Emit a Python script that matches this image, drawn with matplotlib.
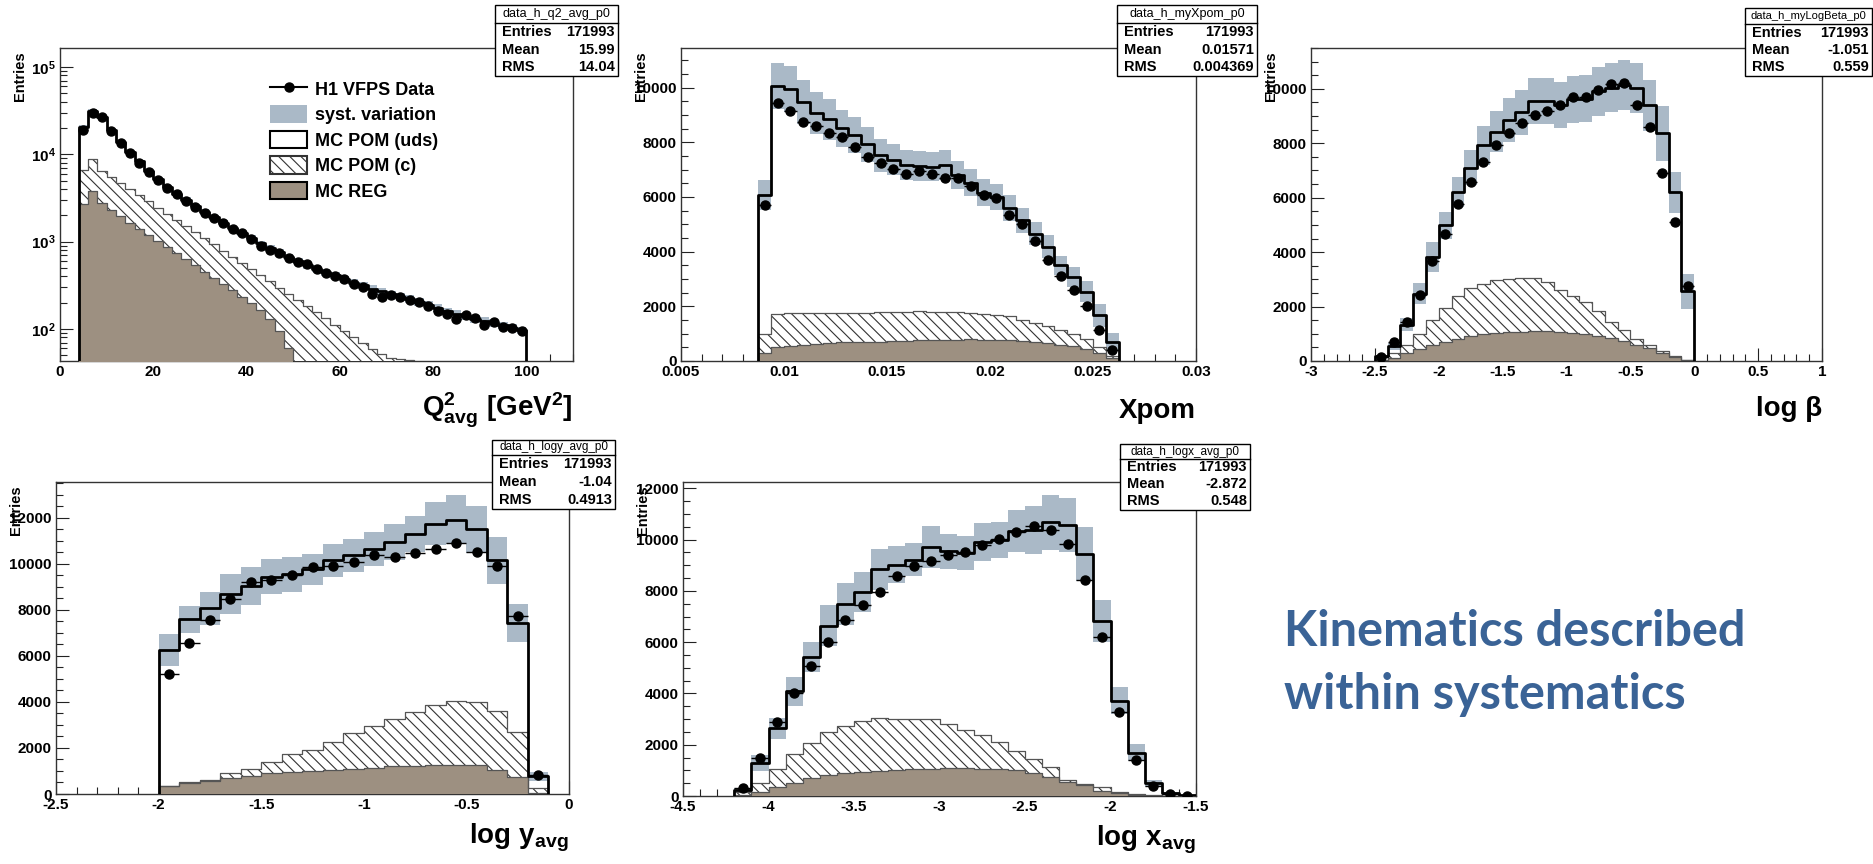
import numpy as np
import matplotlib
matplotlib.use('Agg')
import matplotlib.pyplot as plt
from matplotlib.ticker import MultipleLocator, LogLocator, FuncFormatter, NullFormatter
from matplotlib.patches import Rectangle
from matplotlib.lines import Line2D

plt.rcParams['font.family'] = ['Liberation Sans', 'DejaVu Sans']
plt.rcParams['font.weight'] = 'bold'
plt.rcParams['mathtext.fontset'] = 'custom'
plt.rcParams['mathtext.rm'] = 'Liberation Sans:bold'
plt.rcParams['mathtext.it'] = 'Liberation Sans:bold'
plt.rcParams['mathtext.bf'] = 'Liberation Sans:bold'
plt.rcParams['hatch.linewidth'] = 0.8

W, H = 1873, 864
SYS_COL = '#aab9c7'
REG_COL = '#9d9081'
TXT_BLUE = '#3a6396'
HATCH = '\\\\\\'

# ---- Q2 (log scale), bins of 2 GeV^2 from 4 to 100
q2_data = [19000, 30000, 26500, 18500, 13500, 10300, 8000, 6300, 5050, 4150,
           3550, 2950, 2500, 2150, 1880, 1630, 1380, 1240, 1080, 890,
           810, 740, 650, 590, 550, 490, 440, 400, 370, 330,
           300, 250, 230, 245, 235, 215, 205, 185, 160, 150,
           130, 145, 135, 110, 120, 105, 103, 95]
q2_mc = [20500, 31500, 27000, 19000, 13800, 10500, 8300, 6500, 5200, 4250,
         3550, 3000, 2550, 2200, 1900, 1650, 1420, 1250, 1100, 960,
         850, 760, 670, 600, 540, 490, 450, 410, 370, 340,
         315, 290, 270, 250, 235, 220, 205, 190, 175, 160,
         150, 140, 130, 125, 118, 110, 103, 97]
q2_sys = [0.05, 0.05, 0.05, 0.05, 0.05, 0.05, 0.05, 0.05, 0.05, 0.05,
          0.07, 0.07, 0.07, 0.07, 0.07, 0.07, 0.07, 0.07, 0.07, 0.07,
          0.08, 0.08, 0.08, 0.08, 0.09, 0.09, 0.09, 0.09, 0.1, 0.1,
          0.1, 0.1, 0.1, 0.1, 0.1, 0.1, 0.1, 0.1, 0.1, 0.1,
          0.1, 0.1, 0.1, 0.1, 0.1, 0.1, 0.1, 0.1]
q2_hatch = [6700, 8800, 6500, 5500, 4700, 4000, 3400, 2900, 2450, 2100,
            1780, 1510, 1290, 1090, 930, 790, 670, 570, 485, 412,
            350, 298, 253, 215, 183, 156, 132, 112, 95, 81,
            69, 59, 52, 47, 45, 44]
q2_reg = [2700, 3800, 2800, 2300, 1950, 1650, 1400, 1200, 1020, 870,
          740, 630, 535, 455, 385, 330, 280, 235, 200, 165,
          130, 95, 60]

# ---- Xpom, 28 bins from 0.00875 to 0.02625
xp_data = [5700, 9430, 9150, 8750, 8590, 8350, 8200, 7840, 7470, 7250,
           7040, 6840, 6960, 6840, 6680, 6700, 6400, 6070, 5970, 5340,
           5010, 4400, 3710, 3100, 2610, 2000, 1150, 390]
xp_mc = [6070, 10060, 9940, 9490, 9080, 8840, 8510, 8270, 7920, 7530,
         7370, 7170, 7130, 7110, 7170, 6800, 6520, 6150, 6000, 5600,
         5150, 4660, 4180, 3500, 3080, 2530, 1670, 700]
xp_sys = [0.09, 0.085, 0.085, 0.085, 0.085, 0.085, 0.08, 0.08, 0.08, 0.08,
          0.075, 0.075, 0.075, 0.075, 0.075, 0.075, 0.075, 0.08, 0.08, 0.085,
          0.09, 0.09, 0.1, 0.1, 0.12, 0.15, 0.25, 0.45]
xp_hatch = [1000, 1730, 1740, 1760, 1760, 1760, 1770, 1760, 1770, 1780,
            1790, 1800, 1820, 1790, 1790, 1780, 1760, 1720, 1690, 1650,
            1500, 1380, 1270, 1150, 1000, 820, 520, 200]
xp_reg = [300, 520, 560, 600, 620, 650, 680, 690, 700, 710,
          720, 740, 760, 760, 770, 780, 790, 780, 770, 760,
          740, 700, 650, 600, 540, 440, 300, 120]

# ---- log beta, 25 bins from -2.5 to 0
lb_data = [150, 690, 1420, 2440, 3660, 4680, 5770, 6570, 7300, 7930,
           8360, 8730, 9030, 9200, 9420, 9710, 9710, 9950, 10180, 10220,
           9410, 8580, 6910, 5100, 2770]
lb_mc = [170, 540, 1340, 2480, 3820, 4980, 6210, 7100, 7920, 8420,
         8850, 9140, 9550, 9550, 9390, 9610, 9630, 9910, 10040, 10150,
         10030, 9400, 8360, 6200, 2560]
lb_sys = [0.3, 0.25, 0.18, 0.16, 0.14, 0.1, 0.09, 0.09, 0.09, 0.09,
          0.09, 0.09, 0.09, 0.09, 0.09, 0.09, 0.09, 0.09, 0.09, 0.09,
          0.09, 0.1, 0.12, 0.12, 0.25]
lb_hatch = [20, 290, 600, 990, 1500, 1950, 2380, 2680, 2840, 2970,
            3010, 3050, 3050, 2890, 2620, 2400, 2160, 1830, 1420, 1150,
            810, 600, 380, 200, 50]
lb_reg = [10, 120, 280, 450, 580, 700, 820, 920, 1000, 1030,
          1050, 1080, 1100, 1100, 1080, 1040, 990, 920, 830, 720,
          600, 460, 310, 160, 40]

# ---- log y_avg, 19 bins from -2.0 to -0.1
ly_data = [5200, 6540, 7550, 8450, 9210, 9290, 9500, 9860, 9890, 10080,
           10370, 10300, 10470, 10630, 10920, 10510, 9890, 7740, 810]
ly_mc = [6250, 7580, 8060, 8680, 9030, 9430, 9550, 9750, 10150, 10370,
         10630, 10950, 11280, 11740, 11910, 11490, 10150, 7440, 770]
ly_sys = [0.11, 0.08, 0.09, 0.1, 0.09, 0.08, 0.08, 0.07, 0.07, 0.07,
          0.07, 0.07, 0.07, 0.08, 0.09, 0.09, 0.1, 0.11, 0.25]
ly_hatch = [330, 500, 620, 900, 1100, 1400, 1750, 1920, 2280, 2640,
            2960, 3250, 3550, 3850, 4050, 4000, 3620, 2700, 250]
ly_reg = [330, 470, 560, 680, 770, 900, 950, 1000, 1050, 1100,
          1150, 1200, 1230, 1260, 1280, 1250, 1030, 720, 50]

# ---- log x_avg, 27 bins from -4.2 to -1.5
lx_data = [300, 1500, 2900, 4010, 5090, 6000, 6850, 7460, 7940, 8570,
           8960, 9150, 9390, 9510, 9800, 10040, 10290, 10520, 10370, 9840,
           8410, 6220, 3290, 1410, 390, 65, 0]
lx_mc = [230, 1280, 2640, 4080, 5420, 6640, 7490, 7960, 8850, 9020,
         9220, 9710, 9540, 9480, 9900, 10000, 10330, 10390, 10680, 10560,
         9440, 6810, 3720, 1690, 490, 100, 25]
lx_sys = [0.3, 0.25, 0.16, 0.14, 0.11, 0.12, 0.11, 0.1, 0.09, 0.08,
          0.07, 0.085, 0.07, 0.07, 0.075, 0.07, 0.08, 0.09, 0.1, 0.1,
          0.11, 0.12, 0.14, 0.2, 0.3, 0.4, 0.5]
lx_hatch = [170, 520, 1050, 1640, 2080, 2510, 2730, 2930, 3030, 3010,
            2990, 2990, 2810, 2580, 2380, 2100, 1770, 1430, 1120, 620,
            470, 340, 170, 80, 40, 10, 0]
lx_reg = [30, 170, 340, 520, 690, 820, 890, 940, 980, 1010,
          1040, 1060, 1080, 1080, 1070, 1050, 1020, 890, 760, 530,
          430, 210, 100, 40, 15, 5, 0]

fig = plt.figure(figsize=(W / 100, H / 100), dpi=100)


def add_axes_px(l, t, r, b):
    return fig.add_axes([l / W, 1 - b / H, (r - l) / W, (b - t) / H])


def pad(vals, n, base):
    v = np.zeros(n)
    v[:len(vals)] = vals
    return np.maximum(v, base)


def draw_hists(ax, edges, data, mc, sys_rel, hatch_top, reg, log=False):
    n = len(mc)
    base = 1e-3 if log else 0.0
    mc = np.asarray(mc, float)
    hatch_top = pad(hatch_top, n, base)
    reg = pad(reg, n, base)
    sys_rel = np.asarray(sys_rel)
    xs = np.repeat(edges, 2)[1:-1]
    rep = lambda v: np.repeat(v, 2)
    # MC POM (uds) region
    ax.fill_between(xs, rep(hatch_top), rep(mc), color='white', lw=0, zorder=1)
    # systematic band
    ax.fill_between(xs, rep(mc * (1 - sys_rel)), rep(mc * (1 + sys_rel)),
                    color=SYS_COL, lw=0, zorder=2)
    # MC POM (c), hatched
    ax.fill_between(xs, rep(reg), rep(hatch_top), facecolor='white',
                    edgecolor='#333333', hatch=HATCH, lw=0, zorder=3)
    # MC REG
    ax.fill_between(xs, base, rep(reg), color=REG_COL, lw=0, zorder=4)
    xo = np.repeat(edges, 2)
    outline = lambda v: np.concatenate([[base], np.repeat(v, 2), [base]])
    ax.plot(xo, outline(reg), color='#555555', lw=0.9, zorder=5)
    ax.plot(xo, outline(hatch_top), color='#555555', lw=0.9, zorder=5)
    ax.plot(xo, outline(mc), color='black', lw=2.0, zorder=6)
    centers = 0.5 * (edges[1:] + edges[:-1])
    half = 0.5 * (edges[1] - edges[0])
    ax.errorbar(centers, data, xerr=half, fmt='o', color='black', ms=6.5,
                elinewidth=1.0, capsize=0, zorder=7)


def style_axes(ax, xmaj, xmin, ymaj=None, ymin=None):
    ax.set_axisbelow(True)
    for s in ax.spines.values():
        s.set_color('#333333')
        s.set_linewidth(1.0)
    ax.tick_params(which='both', direction='in', top=False, right=False,
                   labelsize=11, pad=3, width=0.8, color='#222222')
    ax.tick_params(which='major', length=9.4)
    ax.tick_params(which='minor', length=4.7)
    ax.xaxis.set_major_locator(MultipleLocator(xmaj))
    ax.xaxis.set_minor_locator(MultipleLocator(xmin))
    ax.xaxis.set_major_formatter(FuncFormatter(lambda v, p: '%g' % round(v, 6)))
    if ymaj is not None:
        ax.yaxis.set_major_locator(MultipleLocator(ymaj))
        ax.yaxis.set_minor_locator(MultipleLocator(ymin))
        ax.yaxis.set_major_formatter(FuncFormatter(lambda v, p: '%d' % v))
    ax.annotate('Entries', xy=(0, 1), xycoords='axes fraction',
                xytext=(-40 * 0.72, -3 * 0.72), textcoords='offset points',
                rotation=90, ha='center', va='top', fontsize=10.5)


def xtitle(ax, text, below_px):
    h = ax.get_position().height * H
    ax.text(1.0, -below_px / h, text, transform=ax.transAxes, ha='right',
            va='baseline', fontsize=20)


def stat_box(x0, y0, x1, y1, ysep, title, mean, rms, tsize=9):
    fig.add_artist(Rectangle((x0 / W, 1 - y1 / H), (x1 - x0) / W, (y1 - y0) / H,
                             transform=fig.transFigure, facecolor='white',
                             edgecolor='black', lw=1.0, zorder=10))
    fig.add_artist(Line2D([x0 / W, x1 / W], [1 - ysep / H, 1 - ysep / H],
                          transform=fig.transFigure, color='black', lw=1.0, zorder=11))
    fig.text((x0 + x1) / 2 / W, 1 - (y0 + ysep) / 2 / H, title, ha='center',
             va='center', fontsize=tsize, fontweight='normal', zorder=12)
    rh = (y1 - ysep) / 3
    rows = [('Entries', '171993'), ('Mean', mean), ('RMS', rms)]
    for i, (k, v) in enumerate(rows):
        yc = ysep + rh * (i + 0.5)
        fig.text((x0 + 7) / W, 1 - yc / H, k, ha='left', va='center',
                 fontsize=10.5, zorder=12)
        fig.text((x1 - 3) / W, 1 - yc / H, v, ha='right', va='center',
                 fontsize=10.5, zorder=12)


# ---------------- panel 1: Q2
ax1 = add_axes_px(60, 48, 573, 361)
q2_edges = np.linspace(4, 100, len(q2_mc) + 1)
draw_hists(ax1, q2_edges, q2_data, q2_mc, q2_sys, q2_hatch, q2_reg, log=True)
ax1.set_yscale('log')
ax1.set_xlim(0, 110)
ax1.set_ylim(43, 1.65e5)
style_axes(ax1, 20, 5)
ax1.yaxis.set_major_locator(LogLocator(base=10))
ax1.yaxis.set_minor_locator(LogLocator(base=10, subs=np.arange(2, 10)))
ax1.yaxis.set_major_formatter(FuncFormatter(
    lambda v, p: r'$\mathbf{10^{%d}}$' % round(np.log10(v))))
ax1.yaxis.set_minor_formatter(NullFormatter())
xtitle(ax1, r'$\mathbf{Q^{2}_{avg}\ [GeV^{2}]}$', 56)

handles = [
    Line2D([], [], color='black', marker='o', ms=6.5, lw=1.5),
    Rectangle((0, 0), 1, 1, facecolor=SYS_COL, edgecolor='none'),
    Rectangle((0, 0), 1, 1, facecolor='white', edgecolor='black', lw=1.5),
    Rectangle((0, 0), 1, 1, facecolor='white', edgecolor='#333333', lw=1.5, hatch=HATCH),
    Rectangle((0, 0), 1, 1, facecolor=REG_COL, edgecolor='black', lw=1.5),
]
labels = ['H1 VFPS Data', 'syst. variation', 'MC POM (uds)', 'MC POM (c)', 'MC REG']
ax1.legend(handles, labels, loc='upper left', bbox_to_anchor=(0.378, 0.95),
           frameon=False, fontsize=13, handlelength=2.05, handleheight=1.1,
           handletextpad=0.45, labelspacing=0.37, borderpad=0.4)

# ---------------- panel 2: Xpom
ax2 = add_axes_px(681, 48, 1196, 361)
xp_edges = np.linspace(0.00875, 0.02625, len(xp_mc) + 1)
draw_hists(ax2, xp_edges, xp_data, xp_mc, xp_sys, xp_hatch, xp_reg)
ax2.set_xlim(0.005, 0.03)
ax2.set_ylim(0, 11450)
style_axes(ax2, 0.005, 0.001, 2000, 500)
xtitle(ax2, 'Xpom', 57)

# ---------------- panel 3: log beta
ax3 = add_axes_px(1311, 48, 1822, 361)
lb_edges = np.linspace(-2.5, 0.0, len(lb_mc) + 1)
draw_hists(ax3, lb_edges, lb_data, lb_mc, lb_sys, lb_hatch, lb_reg)
ax3.set_xlim(-3, 1)
ax3.set_ylim(0, 11500)
style_axes(ax3, 0.5, 0.1, 2000, 500)
xtitle(ax3, 'log β', 55)

# ---------------- panel 4: log y
ax4 = add_axes_px(56, 482, 569, 794)
ly_edges = np.linspace(-2.0, -0.1, len(ly_mc) + 1)
draw_hists(ax4, ly_edges, ly_data, ly_mc, ly_sys, ly_hatch, ly_reg)
ax4.set_xlim(-2.5, 0)
ax4.set_ylim(0, 13550)
style_axes(ax4, 0.5, 0.1, 2000, 500)
xtitle(ax4, r'$\mathbf{log\ y_{avg}}$', 49)

# ---------------- panel 5: log x
ax5 = add_axes_px(683, 482, 1196, 796)
lx_edges = np.linspace(-4.2, -1.5, len(lx_mc) + 1)
draw_hists(ax5, lx_edges, lx_data, lx_mc, lx_sys, lx_hatch, lx_reg)
ax5.set_xlim(-4.5, -1.5)
ax5.set_ylim(0, 12250)
style_axes(ax5, 0.5, 0.1, 2000, 500)
xtitle(ax5, r'$\mathbf{log\ x_{avg}}$', 49)

# ---------------- stat boxes
stat_box(495, 5, 618, 76, 23, 'data_h_q2_avg_p0', '15.99', '14.04')
stat_box(1117, 5, 1257, 76, 23, 'data_h_myXpom_p0', '0.01571', '0.004369')
stat_box(1745, 8, 1872, 76, 24, 'data_h_myLogBeta_p0', '-1.051', '0.559', tsize=8)
stat_box(492, 440, 615, 509, 455, 'data_h_logy_avg_p0', '-1.04', '0.4913', tsize=8.5)
stat_box(1120, 444, 1250, 510, 459, 'data_h_logx_avg_p0', '-2.872', '0.548', tsize=8.5)

# ---------------- side text
fig.text(1284 / W, 1 - 646 / H, 'Kinematics described', fontsize=35,
         family=['Lato', 'DejaVu Sans'], fontweight='bold', color=TXT_BLUE, va='baseline')
fig.text(1284 / W, 1 - 709 / H, 'within systematics', fontsize=35,
         family=['Lato', 'DejaVu Sans'], fontweight='bold', color=TXT_BLUE, va='baseline')

fig.savefig('out.png', dpi=100)
